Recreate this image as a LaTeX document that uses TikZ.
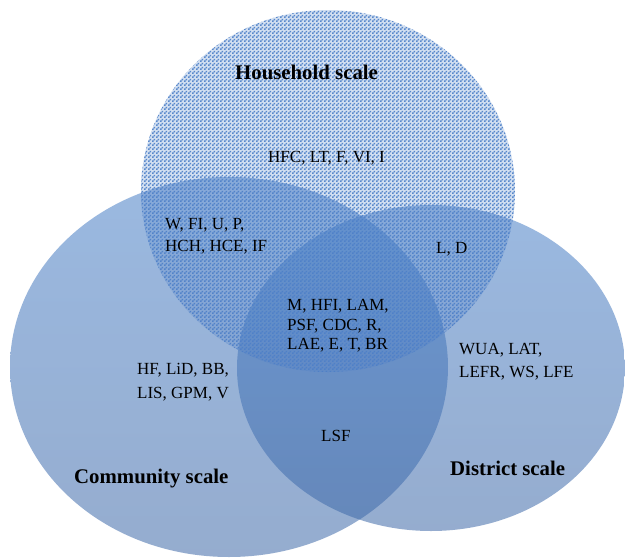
\documentclass[tikz,border=0pt]{standalone}
\usepackage{fontspec}
\setmainfont{Liberation Serif}
\usetikzlibrary{shapes.geometric,patterns.meta}

% fine two-tone checks for the household disc
\pgfdeclarepattern{
  name=finechecks, type=uncolored,
  bottom left={\pgfpoint{0pt}{0pt}}, top right={\pgfpoint{4pt}{4pt}},
  tile size={\pgfpoint{4pt}{4pt}},
  code={\pgfpathrectangle{\pgfpointorigin}{\pgfpoint{2pt}{2pt}}
        \pgfpathrectangle{\pgfpoint{2pt}{2pt}}{\pgfpoint{2pt}{2pt}}
        \pgfusepath{fill}}}

\definecolor{vennblue}{RGB}{73,128,200}
\definecolor{venndeep}{RGB}{62,105,168}
\definecolor{checkblue}{RGB}{78,128,200}

\tikzset{
  disc/.style={ellipse, inner sep=0pt, draw=none},
  softdisc/.style={disc, top color=vennblue, bottom color=venndeep, fill opacity=0.55},
  checkbase/.style={disc, fill=checkblue, fill opacity=0.25},
  checkdisc/.style={disc, pattern={finechecks}, pattern color=checkblue, fill opacity=0.92},
  item/.style={anchor=base west, inner sep=0pt, text=black,
               font=\fontsize{17}{20}\selectfont},
  scalelabel/.style={anchor=base west, inner sep=0pt, text=black,
               font=\fontsize{20.8}{24}\selectfont\bfseries}
}

\begin{document}
\begin{tikzpicture}[x=1pt,y=-1pt]
\useasboundingbox (0,0) rectangle (625,558);
\fill[white] (0,0) rectangle (625,558);

% the three scales
\node[softdisc, minimum width=438pt, minimum height=380pt] (community) at (229,367) {};
\node[softdisc, minimum width=388pt, minimum height=326pt] (district) at (431,368) {};
\node[checkbase, minimum width=374pt, minimum height=362pt] (householdbase) at (328,191) {};
\node[checkdisc, minimum width=374pt, minimum height=362pt] (household) at (328,191) {};

% scale names
\node[scalelabel] (hhname) at (235,79) {Household scale};
\node[scalelabel] (cmname) at (74,483) {Community scale};
\node[scalelabel] (dsname) at (450,475) {District scale};

% household only
\node[item] (hh) at (268,162) {HFC, LT, F, VI, I};

% household and community
\node[item] (hc1) at (165,229) {W, FI, U, P,};
\node[item] (hc2) at (165,251) {HCH, HCE, IF};

% household and district
\node[item] (hd) at (436,253) {L, D};

% all three
\node[item] (all1) at (287,310) {M, HFI, LAM,};
\node[item] (all2) at (287,330) {PSF, CDC, R,};
\node[item] (all3) at (287,349) {LAE, E, T, BR};

% community only
\node[item] (cm1) at (137,374) {HF, LiD, BB,};
\node[item] (cm2) at (137,398) {LIS, GPM, V};

% district only
\node[item] (ds1) at (459,354) {WUA, LAT,};
\node[item] (ds2) at (459,377) {LEFR, WS, LFE};

% community and district
\node[item] (cd) at (321,441) {LSF};
\end{tikzpicture}
\end{document}
